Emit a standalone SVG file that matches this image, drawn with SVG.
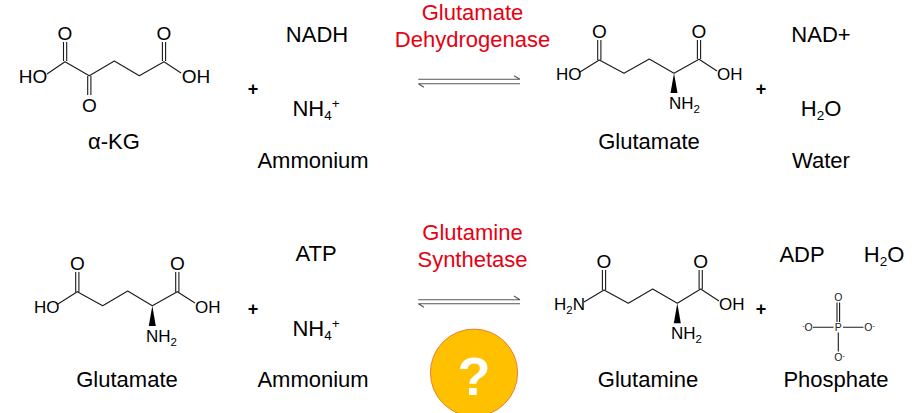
<svg xmlns="http://www.w3.org/2000/svg" width="919" height="413" viewBox="0 0 919 413">
<style>
text{font-family:"Liberation Sans",Arial,sans-serif;fill:#000}
.b{font-size:22px;text-anchor:middle}
.r{font-size:22px;text-anchor:middle;fill:#e60012}
.a{font-size:19px;text-anchor:middle}
.m{font-size:17px}
.t{font-size:10.5px;text-anchor:middle;fill:#222}
.p{font-size:18px;font-weight:bold;text-anchor:middle}
.bond{fill:none;stroke:#1a1a1a;stroke-width:1.1;stroke-linejoin:round}
.arrow{fill:none;stroke:#555;stroke-width:1.1}
</style>
<rect width="919" height="413" fill="#fff"/>
<g id="connectors">
<path class="arrow" d="M418.3 79.3H520M514 75.7L520 79.3M520 83.7H418.3M418.3 83.7L424 87.3"/>
<path class="arrow" d="M418.3 299.7H520M514 296L520 299.7M520 303.7H418.3M418.3 303.7L424 307.3"/>
</g>
<g id="enzyme-gdh">
<text class="r" x="472.5" y="19.5">Glutamate</text>
<text class="r" x="472.5" y="46.5">Dehydrogenase</text>
</g>
<g id="enzyme-gs">
<text class="r" x="472.5" y="239.5">Glutamine</text>
<text class="r" x="472.5" y="266.5">Synthetase</text>
</g>
<g id="akg">
<path class="bond" d="M47 74L65 61.7L89.3 75.7L114.3 61L139.3 75.7L164 61.7L181 73M63.5 61V42M66.7 61V42M87.7 76V95M90.9 76V95M162.4 61V42M165.6 61V42"/>
<text class="a" x="65" y="40">O</text>
<text class="a" x="164" y="40">O</text>
<text class="a" x="89.3" y="112">O</text>
<text class="a" x="33" y="83">HO</text>
<text class="a" x="196" y="83">OH</text>
<text class="b" x="114" y="149">α-KG</text>
</g>
<g id="nadh"><text class="b" x="317" y="42">NADH</text></g>
<g id="nh4-top"><text class="b" x="316" y="116">NH<tspan font-size="13.5" dy="4">4</tspan><tspan font-size="13.5" dy="-12">+</tspan></text></g>
<g id="ammonium-top"><text class="b" x="313" y="168">Ammonium</text></g>
<g id="plus-1"><text class="p" x="253" y="94.5">+</text></g>
<g id="glutamate-top">
<path class="bond" d="M580 72L599.3 60L624 73.3L649.3 59L674 73.3L699 59.3L717 71M597.7 60V40M600.9 60V40M697.4 59V40M700.6 59V40"/>
<path d="M674 73.3L670.5 93H677.5Z" fill="#000"/>
<text class="m" x="556" y="80">HO</text>
<text class="m" x="717" y="80">OH</text>
<text class="m" x="669" y="109">NH<tspan font-size="11.5" dy="4">2</tspan></text>
<text class="a" x="599.3" y="37.5">O</text>
<text class="a" x="699" y="37.5">O</text>
<text class="b" x="649" y="149">Glutamate</text>
</g>
<g id="plus-2"><text class="p" x="761" y="94.5">+</text></g>
<g id="nad"><text class="b" x="821" y="42">NAD+</text></g>
<g id="water-top"><text class="b" x="821" y="116">H<tspan font-size="13.5" dy="4">2</tspan><tspan dy="-4">O</tspan></text></g>
<g id="water-label"><text class="b" x="821" y="168">Water</text></g>
<g id="glutamate-bottom">
<path class="bond" d="M58 304L77.3 291.7L102.7 305.7L127.7 291L152.3 305.7L177.3 291.7L195 303M75.7 292V272M78.9 292V272M175.7 292V272M178.9 292V272"/>
<path d="M152.3 305.7L148.8 326H155.8Z" fill="#000"/>
<text class="m" x="34" y="312.5">HO</text>
<text class="m" x="195" y="312.5">OH</text>
<text class="m" x="146" y="342">NH<tspan font-size="11.5" dy="4">2</tspan></text>
<text class="a" x="77.3" y="270">O</text>
<text class="a" x="177.3" y="270">O</text>
<text class="b" x="127" y="387">Glutamate</text>
</g>
<g id="atp"><text class="b" x="316" y="261">ATP</text></g>
<g id="nh4-bottom"><text class="b" x="316" y="336">NH<tspan font-size="13.5" dy="4">4</tspan><tspan font-size="13.5" dy="-12">+</tspan></text></g>
<g id="ammonium-bottom"><text class="b" x="313" y="387">Ammonium</text></g>
<g id="plus-3"><text class="p" x="253" y="315">+</text></g>
<g id="glutamine">
<path class="bond" d="M584 302L604 290L628.3 303.3L652.7 289L677.3 303.3L700.7 289L719 301M602.4 290V270M605.6 290V270M699.1 289V270M702.3 289V270"/>
<path d="M677.3 303.3L673.8 323.3H680.8Z" fill="#000"/>
<text class="m" x="554" y="310">H<tspan font-size="11.5" dy="4">2</tspan><tspan dy="-4">N</tspan></text>
<text class="m" x="719" y="310">OH</text>
<text class="m" x="671" y="339">NH<tspan font-size="11.5" dy="4">2</tspan></text>
<text class="a" x="604" y="268">O</text>
<text class="a" x="700.7" y="268">O</text>
<text class="b" x="648" y="387">Glutamine</text>
</g>
<g id="plus-4"><text class="p" x="761" y="314.5">+</text></g>
<g id="adp"><text class="b" x="802" y="262">ADP</text></g>
<g id="water-bottom"><text class="b" x="884" y="262">H<tspan font-size="13.5" dy="4">2</tspan><tspan dy="-4">O</tspan></text></g>
<g id="phosphate">
<path class="bond" d="M813 327.3H833.5M843 327.3H863.5M838.3 332.5V351.5M837 302.5V322M839.6 302.5V322"/>
<text class="t" x="838.3" y="301">O</text>
<text class="t" x="838.3" y="331">P</text>
<text class="t" x="807.5" y="331"><tspan font-size="7" dy="-3">-</tspan><tspan dy="3">O</tspan></text>
<text class="t" x="869.5" y="331">O<tspan font-size="7" dy="-3">-</tspan></text>
<text class="t" x="839.5" y="361">O<tspan font-size="7" dy="-3">-</tspan></text>
<text class="b" x="836" y="387">Phosphate</text>
</g>
<g id="question">
<circle cx="474" cy="372.7" r="43.6" fill="#ffc000" stroke="#ed7d31" stroke-width="1"/>
<text x="474" y="395" font-size="54" font-weight="bold" text-anchor="middle" style="fill:#fff">?</text>
</g>
</svg>
